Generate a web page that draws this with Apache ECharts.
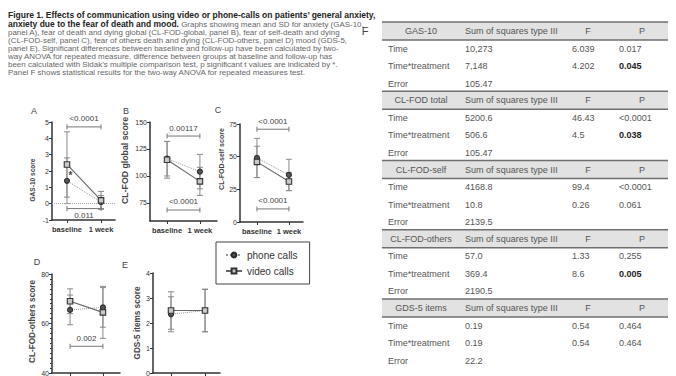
<!DOCTYPE html>
<html><head><meta charset="utf-8">
<script src="https://cdn.jsdelivr.net/npm/echarts@6/dist/echarts.min.js"></script>
<style>html,body{margin:0;padding:0;background:#fff}#c{width:676px;height:376px}</style>
</head><body><div id="c"></div>
<script>
// ---------- data ----------
const categories = ['baseline', '1 week'];
const seriesNames = ['phone calls', 'video calls'];

// Panel A: GAS-10
const gasPhone = [1.4, 0.1];
const gasVideo = [2.4, 0.2];
const gasPhoneSD = [1.4, 0.4];
const gasVideoSD = [2.0, 0.55];
const gasBracketY = [4.7, -0.3];
const gasBracketP = ['<0.0001', '0.011'];
const gasBracketSide = ['above', 'below'];
const gasStar = [0.1, 1.85];

// Panel B: CL-FOD global
const globPhone = [116, 104];
const globVideo = [115, 95];
const globPhoneSD = [16, 16];
const globVideoSD = [17, 13];
const globBracketY = [137, 68.5];
const globBracketP = ['0.00117', '<0.0001'];
const globBracketSide = ['above', 'above'];

// Panel C: CL-FOD-self
const selfPhone = [49, 36];
const selfVideo = [46, 31];
const selfPhoneSD = [15, 12];
const selfVideoSD = [12, 7];
const selfBracketY = [71, 10];
const selfBracketP = ['<0.0001', '<0.0001'];
const selfBracketSide = ['above', 'above'];

// Panel D: CL-FOD-others
const othPhone = [65.5, 66.5];
const othVideo = [69, 64.5];
const othPhoneSD = [6, 8];
const othVideoSD = [5, 10.5];
const othBracketY = [50.8];
const othBracketP = ['0.002'];
const othBracketSide = ['above'];

// Panel E: GDS-5
const gdsPhone = [2.35, 2.5];
const gdsVideo = [2.5, 2.5];
const gdsPhoneSD = [0.7, 0.85];
const gdsVideoSD = [0.75, 0.85];

// Caption
const captionBold1 = 'Figure 1. Effects of communication using video or phone-calls on patients\u2019 general anxiety,';
const captionBold2 = 'anxiety due to the fear of death and mood.';
const captionRest2 = ' Graphs showing mean and SD for anxiety (GAS-10,';
const captionLines = [
  'panel A), fear of death and dying global (CL-FOD-global, panel B), fear of self-death and dying',
  '(CL-FOD-self, panel C), fear of others death and dying (CL-FOD-others, panel D) mood (GDS-5,',
  'panel E). Significant differences between baseline and follow-up have been calculated by two-',
  'way ANOVA for repeated measure, difference between groups at baseline and follow-up has',
  'been calculated with Sidak\u2019s multiple comparison test, p significant t values are indicated by *.',
  'Panel F shows statistical results for the two-way ANOVA for repeated measures test.'
];

// Panel F table
const tableSections = ['GAS-10', 'CL-FOD total', 'CL-FOD-self', 'CL-FOD-others', 'GDS-5 items'];
const tableHeader = ['Sum of squares type III', 'F', 'P'];
const rowLabels = ['Time', 'Time*treatment', 'Error'];
const ssValues = [
  ['10,273', '7,148', '105.47'],
  ['5200.6', '506.6', '105.47'],
  ['4168.8', '10.8', '2139.5'],
  ['57.0', '369.4', '2190.5'],
  ['0.19', '0.19', '22.2']
];
const fValues = [
  ['6.039', '4.202', ''],
  ['46.43', '4.5', ''],
  ['99.4', '0.26', ''],
  ['1.33', '8.6', ''],
  ['0.54', '0.54', '']
];
const pValues = [
  ['0.017', '0.045', ''],
  ['<0.0001', '0.038', ''],
  ['<0.0001', '0.061', ''],
  ['0.255', '0.005', ''],
  ['0.464', '0.464', '']
];
const pBold = [
  [false, true, false],
  [false, true, false],
  [false, false, false],
  [false, true, false],
  [false, false, false]
];

// ---------- helpers ----------
const FONT = 'Liberation Sans, Arial, sans-serif';
const SVGNS = 'http://www.w3.org/2000/svg';
const _svg = document.createElementNS(SVGNS, 'svg');
_svg.setAttribute('width', '10'); _svg.setAttribute('height', '10');
_svg.style.position = 'absolute'; _svg.style.left = '-9999px';
document.body.appendChild(_svg);
function fitSize(text, weight, target) {
  const t = document.createElementNS(SVGNS, 'text');
  t.setAttribute('font-family', FONT);
  t.setAttribute('font-size', '20');
  t.setAttribute('font-weight', weight);
  t.textContent = text;
  _svg.appendChild(t);
  const w = t.getComputedTextLength();
  _svg.removeChild(t);
  return Math.round(20 * target / w * 100) / 100;
}

// ---------- layout ----------
const panels = [
  {grid:{left:52, top:122, width:63, height:98}, x:[-0.44, 1.41], y:{min:-1, max:5, interval:1},
   name:'GAS-10 score', nameLen:43, nameGap:16, nameShift:-9, xLabels:true,
   phone:gasPhone, video:gasVideo, pSD:gasPhoneSD, vSD:gasVideoSD,
   by:gasBracketY, bp:gasBracketP, bs:gasBracketSide, zero:true},
  {grid:{left:150, top:122, width:67, height:99}, x:[-0.52, 1.52], y:{min:58.3, max:150, custom:[75,100,125,150]},
   name:'CL-FOD global score', nameLen:87, nameGap:21, nameShift:11, xLabels:true,
   phone:globPhone, video:globVideo, pSD:globPhoneSD, vSD:globVideoSD,
   by:globBracketY, bp:globBracketP, bs:globBracketSide},
  {grid:{left:240, top:124, width:63, height:98}, x:[-0.53, 1.44], y:{min:0, max:75, interval:25},
   name:'CL-FOD-self score', nameLen:62, nameGap:15, nameShift:14, xLabels:true,
   phone:selfPhone, video:selfVideo, pSD:selfPhoneSD, vSD:selfVideoSD,
   by:selfBracketY, bp:selfBracketP, bs:selfBracketSide},
  {grid:{left:52, top:274, width:68, height:99}, x:[-0.55, 1.52], y:{min:40, max:80, interval:20, minor:true},
   name:'CL-FOD-others score', nameLen:83, nameGap:16, nameShift:2, xLabels:false,
   phone:othPhone, video:othVideo, pSD:othPhoneSD, vSD:othVideoSD,
   by:othBracketY, bp:othBracketP, bs:othBracketSide},
  {grid:{left:153, top:273, width:67, height:100}, x:[-0.53, 1.44], y:{min:0, max:4, interval:1},
   name:'GDS-5 items score', nameLen:73, nameGap:12, nameShift:0, xLabels:false,
   phone:gdsPhone, video:gdsVideo, pSD:gdsPhoneSD, vSD:gdsVideoSD,
   by:[], bp:[], bs:[]}
];

const AX = '#333';
const grids = [], xAxes = [], yAxes = [], series = [];

function renderErr(params, api) {
  const x = api.value(0);
  const lo = api.coord([x, api.value(1)]);
  const hi = api.coord([x, api.value(2)]);
  const w = 3;
  const st = {stroke:'#8a8a8a', lineWidth:1};
  return {type:'group', children:[
    {type:'line', shape:{x1:lo[0], y1:lo[1], x2:hi[0], y2:hi[1]}, style:st},
    {type:'line', shape:{x1:lo[0]-w, y1:lo[1], x2:lo[0]+w, y2:lo[1]}, style:st},
    {type:'line', shape:{x1:hi[0]-w, y1:hi[1], x2:hi[0]+w, y2:hi[1]}, style:st}
  ]};
}

panels.forEach((p, gi) => {
  grids.push(Object.assign({containLabel:false, outerBoundsMode:'none'}, p.grid));
  xAxes.push({
    type:'value', gridIndex:gi, min:p.x[0], max:p.x[1],
    axisLine:{show:true, onZero:false, lineStyle:{color:AX, width:1.5}},
    axisTick:{show:true, length:3, customValues:[0,1], lineStyle:{color:AX, width:1}},
    axisLabel:{show:p.xLabels, customValues:[0,1], formatter:v => categories[Math.round(v)], fontSize:7.5, fontWeight:'bold', color:'#333', margin:5, fontFamily:FONT},
    splitLine:{show:false}
  });
  const nSize = fitSize(p.name, 'bold', p.nameLen);
  const pad = p.nameShift >= 0 ? [0, 0, 0, 2 * p.nameShift] : [0, -2 * p.nameShift, 0, 0];
  const ya = {
    type:'value', gridIndex:gi, min:p.y.min, max:p.y.max,
    axisLine:{show:true, onZero:false, lineStyle:{color:AX, width:1.5}},
    axisTick:{show:true, length:3, lineStyle:{color:AX, width:1}},
    axisLabel:{fontSize:7, color:'#333', margin:3, fontFamily:FONT},
    splitLine:{show:false},
    name:p.name, nameLocation:'middle', nameGap:p.nameGap,
    nameTextStyle:{fontSize:nSize, fontWeight:'bold', color:'#444', fontFamily:FONT, padding:pad}
  };
  if (p.y.interval) ya.interval = p.y.interval;
  if (p.y.custom) { ya.axisLabel.customValues = p.y.custom; ya.axisTick.customValues = p.y.custom; }
  if (p.y.minor) { ya.minorTick = {show:true, splitNumber:10, length:2, lineStyle:{color:AX}}; }
  yAxes.push(ya);

  // error bars
  [[p.phone, p.pSD], [p.video, p.vSD]].forEach(([m, sd]) => {
    series.push({
      type:'custom', xAxisIndex:gi, yAxisIndex:gi, silent:true, z:1,
      data: m.map((v, i) => [i, v - sd[i], v + sd[i]]),
      encode:{x:0, y:[1,2]}, renderItem:renderErr
    });
  });

  // brackets
  if (p.by.length) {
    series.push({
      type:'custom', xAxisIndex:gi, yAxisIndex:gi, silent:true, z:3, clip:false,
      data: p.by.map(y => [0, 1, y]), encode:{x:[0,1], y:2},
      renderItem(params, api) {
        const a = api.coord([api.value(0), api.value(2)]);
        const b = api.coord([api.value(1), api.value(2)]);
        const side = p.bs[params.dataIndex];
        const st = {stroke:'#777', lineWidth:1};
        return {type:'group', children:[
          {type:'line', shape:{x1:a[0], y1:a[1], x2:b[0], y2:b[1]}, style:st},
          {type:'line', shape:{x1:a[0], y1:a[1]-2.5, x2:a[0], y2:a[1]+2.5}, style:st},
          {type:'line', shape:{x1:b[0], y1:b[1]-2.5, x2:b[0], y2:b[1]+2.5}, style:st},
          {type:'text', style:{text:p.bp[params.dataIndex], x:(a[0]+b[0])/2, y: side === 'above' ? a[1]-8 : a[1]+7,
            align:'center', verticalAlign:'middle', fontSize:8, fill:'#444', fontFamily:FONT}}
        ]};
      }
    });
  }

  const phoneS = {
    type:'line', name:seriesNames[0], xAxisIndex:gi, yAxisIndex:gi, z:4,
    data: p.phone.map((v, i) => [i, v]),
    symbol:'circle', symbolSize:5, showSymbol:true,
    itemStyle:{color:'#555', borderColor:'#2a2a2a', borderWidth:1.1},
    lineStyle:{color:'#999', width:1, type:'dotted'}
  };
  const videoS = {
    type:'line', name:seriesNames[1], xAxisIndex:gi, yAxisIndex:gi, z:5,
    data: p.video.map((v, i) => [i, v]),
    symbol:'rect', symbolSize:5.5, showSymbol:true,
    itemStyle:{color:'#c8c8c8', borderColor:'#333', borderWidth:1.1},
    lineStyle:{color:'#666', width:1.1, type:'solid'}
  };
  if (p.zero) {
    videoS.markLine = {silent:true, symbol:'none', label:{show:false},
      lineStyle:{color:'#aaa', type:'dotted', width:1}, data:[{yAxis:0}]};
  }
  if (gi === 0) {
    phoneS.markPoint = {symbol:'circle', symbolSize:1, itemStyle:{color:'rgba(0,0,0,0)'},
      label:{show:true, formatter:'*', color:'#444', fontSize:10, fontWeight:'bold', offset:[0,2]},
      data:[{coord:gasStar}]};
  }
  series.push(phoneS, videoS);
});

// ---------- graphics: caption, panel letters, table ----------
const graphics = [];
const boldSize = Math.round(fitSize(captionBold1, 'bold', 331) * 1.11 * 100) / 100;
const regSize = fitSize(captionLines[captionLines.length - 1], 'normal', 297);
const capY = i => i === 0 ? 14.5 : 24 + (i - 1) * 8.1;
const LH = 7.6;
graphics.push({type:'text', x:8, y:capY(0), style:{text:captionBold1, fontSize:boldSize, lineHeight:LH, fontWeight:'bold', fill:'#222', fontFamily:FONT, verticalAlign:'middle'}});
graphics.push({type:'text', x:8, y:capY(1), style:{
  text:'{b|' + captionBold2 + '}{r|' + captionRest2 + '}', verticalAlign:'middle', fontFamily:FONT, lineHeight:LH,
  rich:{b:{fontSize:boldSize, fontWeight:'bold', fill:'#222', fontFamily:FONT, lineHeight:LH},
        r:{fontSize:regSize, fill:'#666', fontFamily:FONT, lineHeight:LH}}
}});
captionLines.forEach((t, i) => {
  graphics.push({type:'text', x:8, y:capY(i + 2), style:{text:t, fontSize:regSize, lineHeight:LH, fill:'#666', fontFamily:FONT, verticalAlign:'middle'}});
});
[['A',34,111],['B',126,111],['C',218,110],['D',37,262],['E',125,265]].forEach(([t,x,y]) => {
  graphics.push({type:'text', x:x, y:y, style:{text:t, fontSize:9, fill:'#444', fontFamily:FONT, align:'center', verticalAlign:'middle'}});
});
graphics.push({type:'text', x:365, y:31, style:{text:'F', fontSize:11, fill:'#444', fontFamily:FONT, align:'center', verticalAlign:'middle'}});

const TL = 382, TR = 668;
const colLabelX = 388, colSecC = 421, colSS = 465, colFC = 588, colFV = 572, colPC = 642, colPV = 619;
const tFont = fitSize(tableHeader[0], 'normal', 93);
tableSections.forEach((sec, si) => {
  const y0 = 31 + si * 69.25;
  graphics.push({type:'rect', shape:{x:TL, y:y0-9, width:TR-TL, height:18}, style:{fill:'#e2e2e2'}, z:0});
  graphics.push({type:'line', shape:{x1:TL, y1:y0-9, x2:TR, y2:y0-9}, style:{stroke:'#6f6f6f', lineWidth:1.6}, z:1});
  graphics.push({type:'line', shape:{x1:TL, y1:y0+9, x2:TR, y2:y0+9}, style:{stroke:'#6f6f6f', lineWidth:1.6}, z:1});
  const hs = {fontSize:tFont, fill:'#555', fontFamily:FONT, verticalAlign:'middle'};
  graphics.push({type:'text', x:colSecC, y:y0, style:Object.assign({text:sec, align:'center'}, hs), z:2});
  graphics.push({type:'text', x:colSS, y:y0, style:Object.assign({text:tableHeader[0], align:'left'}, hs), z:2});
  graphics.push({type:'text', x:colFC, y:y0, style:Object.assign({text:tableHeader[1], align:'center'}, hs), z:2});
  graphics.push({type:'text', x:colPC, y:y0, style:Object.assign({text:tableHeader[2], align:'center'}, hs), z:2});
  rowLabels.forEach((rl, ri) => {
    const y = y0 + 17.5 * (ri + 1);
    const rs = {fontSize:tFont, fill:'#555', fontFamily:FONT, verticalAlign:'middle', align:'left'};
    graphics.push({type:'text', x:colLabelX, y:y, style:Object.assign({text:rl}, rs)});
    graphics.push({type:'text', x:colSS, y:y, style:Object.assign({text:ssValues[si][ri]}, rs)});
    if (fValues[si][ri]) graphics.push({type:'text', x:colFV, y:y, style:Object.assign({text:fValues[si][ri]}, rs)});
    if (pValues[si][ri]) graphics.push({type:'text', x:colPV, y:y, style:Object.assign({text:pValues[si][ri]}, rs,
      pBold[si][ri] ? {fontWeight:'bold', fill:'#222'} : {})});
  });
});

const chart = echarts.init(document.getElementById('c'), null, {renderer:'svg'});
chart.setOption({
  animation:false,
  backgroundColor:'#fff',
  grid:grids, xAxis:xAxes, yAxis:yAxes, series:series,
  legend:{
    data:seriesNames, orient:'vertical', left:216, top:242,
    borderColor:'#444', borderWidth:1, padding:[8,12,8,9], itemGap:6,
    itemWidth:16, itemHeight:6,
    textStyle:{fontSize:10, color:'#333', fontFamily:FONT}
  },
  graphic:graphics
});
</script>
</body></html>
